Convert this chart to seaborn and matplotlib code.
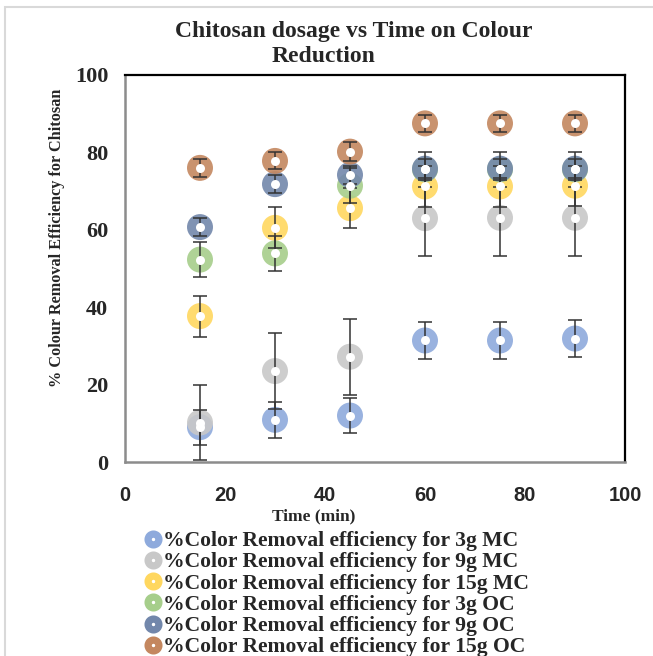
import numpy as np
import pandas as pd
import matplotlib
matplotlib.use('Agg')
import matplotlib.pyplot as plt
from matplotlib.lines import Line2D
from matplotlib.patches import Rectangle
import seaborn as sns

# Time points (min)
time = [15, 30, 45, 60, 75, 90]

# % colour removal for each chitosan dosage / type
mc3 = [9.0, 10.9, 12.0, 31.4, 31.4, 31.9]
mc9 = [10.2, 23.5, 27.2, 63.0, 63.1, 63.1]
mc15 = [37.7, 60.5, 65.6, 71.2, 71.2, 71.4]
oc3 = [52.3, 53.9, 71.4, 75.6, 75.6, 75.6]
oc9 = [60.7, 71.8, 74.2, 75.8, 75.8, 75.8]
oc15 = [76.0, 77.8, 80.2, 87.5, 87.5, 87.5]

# error bar half-lengths
mc3_err = [4.5, 4.7, 4.6, 4.7, 4.7, 4.7]
mc9_err = [9.8, 9.8, 9.8, 9.8, 9.8, 9.8]
mc15_err = [5.3, 5.3, 5.2, 5.2, 5.2, 5.2]
oc3_err = [4.5, 4.5, 4.5, 4.5, 4.5, 4.5]
oc9_err = [2.4, 2.4, 2.4, 2.4, 2.4, 2.4]
oc15_err = [2.3, 2.2, 2.4, 2.1, 2.1, 2.1]

x_ticks = [0, 20, 40, 60, 80, 100]
y_ticks = [0, 20, 40, 60, 80, 100]

labels = ['%Color Removal efficiency for 3g MC',
          '%Color Removal efficiency for 9g MC',
          '%Color Removal efficiency for 15g MC',
          '%Color Removal efficiency for 3g OC',
          '%Color Removal efficiency for 9g OC',
          '%Color Removal efficiency for 15g OC']
colors = ['#8eaadc', '#c8c8c8', '#ffd75f', '#a6ce8b', '#7287ab', '#c4875f']

series = [mc3, mc9, mc15, oc3, oc9, oc15]
errors = [mc3_err, mc9_err, mc15_err, oc3_err, oc9_err, oc15_err]

frames = []
for lab, vals, errs in zip(labels, series, errors):
    frames.append(pd.DataFrame({'Time': time, 'Removal': vals, 'Err': errs, 'Series': lab}))
df = pd.concat(frames, ignore_index=True)

sns.set_style('white')
serif = ['Liberation Serif', 'DejaVu Serif']

fig = plt.figure(figsize=(6.53, 6.56), dpi=100)
W, H = 653, 656
ax = fig.add_axes([125 / W, 1 - 462 / H, 500 / W, 387 / H])

# coloured rings (drawn as filled discs, white centres added on top)
sns.scatterplot(data=df, x='Time', y='Removal', hue='Series', palette=colors,
                hue_order=labels, s=350, linewidth=0, alpha=0.9, legend=False,
                ax=ax, zorder=2)

for lab in labels:
    d = df[df['Series'] == lab]
    ax.errorbar(d['Time'], d['Removal'], yerr=d['Err'], fmt='none',
                ecolor='#333333', elinewidth=1.1, capsize=5, capthick=1.1, zorder=3)

ax.scatter(df['Time'], df['Removal'], s=42, color='white', linewidth=0, zorder=4)

ax.set_xlim(0, 100)
ax.set_ylim(0, 100)
ax.set_xticks(x_ticks, labels=[str(v) for v in x_ticks],
              fontfamily=['Liberation Sans', 'DejaVu Sans'], fontweight='bold', fontsize=14.5)
ax.set_yticks(y_ticks, labels=[str(v) for v in y_ticks],
              fontfamily=serif, fontweight='bold', fontsize=16)
ax.set_xlabel('')
ax.set_ylabel('')
ax.tick_params(axis='x', length=0, pad=17)
ax.tick_params(axis='y', length=0, pad=12)

for side in ['top', 'right']:
    ax.spines[side].set_color('black')
    ax.spines[side].set_linewidth(1.6)
for side in ['left', 'bottom']:
    ax.spines[side].set_color('#8c8c8c')
    ax.spines[side].set_linewidth(1.8)

# titles and axis labels
fig.text(354 / W, 1 - 31 / H, 'Chitosan dosage vs Time on Colour', ha='center', va='center',
         fontsize=17, fontweight='bold', family=serif)
fig.text(324 / W, 1 - 56 / H, 'Reduction', ha='center', va='center',
         fontsize=17, fontweight='bold', family=serif)
fig.text(314 / W, 1 - 516 / H, 'Time (min)', ha='center', va='center',
         fontsize=12.5, fontweight='bold', family=serif)
fig.text(57 / W, 1 - 238 / H, '% Colour Removal Efficiency for Chitosan', ha='center',
         va='center', rotation=90, fontsize=11.7, fontweight='bold', family=serif)

# legend below the plot
handles = [Line2D([0], [0], marker='o', linestyle='none', markersize=7.8,
                  markerfacecolor='white', markeredgecolor=c, markeredgewidth=5.2)
           for c in colors]
leg = fig.legend(handles, labels, loc='upper left', bbox_to_anchor=(145 / W, 1 - 531 / H),
                 frameon=False, prop={'family': serif, 'weight': 'bold', 'size': 15.6},
                 labelspacing=0.05, handlelength=0.7, handletextpad=0.15,
                 borderpad=0, borderaxespad=0)

# outer chart border
fig.patches.append(Rectangle((5 / W, -0.2), 2, 1.2 - 7 / H, transform=fig.transFigure,
                             fill=False, edgecolor='#d9d9d9', linewidth=1.5))

fig.savefig('out.png', dpi=100)
